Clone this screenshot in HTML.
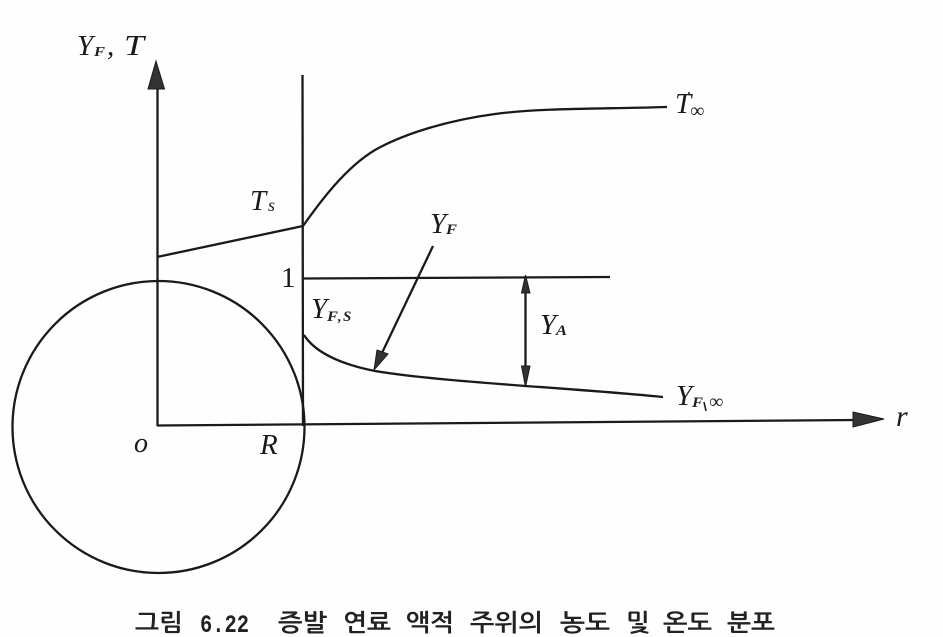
<!DOCTYPE html>
<html lang="ko">
<head>
<meta charset="utf-8">
<style>
html,body{margin:0;padding:0;background:#fefefe;width:943px;height:637px;overflow:hidden}
svg{display:block}
.i{font-family:"Liberation Serif",serif;font-style:italic;fill:#1a1a1a}
.b{font-family:"Liberation Serif",serif;font-style:italic;font-weight:bold;fill:#222}
.c{font-family:"NanumGothic","Noto Sans CJK KR",sans-serif;fill:#222;font-weight:bold}
.m{font-family:"Liberation Mono",monospace;fill:#222;font-weight:bold}
path,line,circle{fill:none;stroke:#1a1a1a;stroke-width:2.3}
path.h{fill:#333;stroke:#1a1a1a;stroke-width:1}
</style>
</head>
<body>
<svg width="943" height="637" viewBox="0 0 943 637" xmlns="http://www.w3.org/2000/svg">
<circle cx="158.5" cy="427" r="146"/>
<line x1="157.5" y1="426" x2="157.5" y2="88"/>
<path class="h" d="M156 61 L148 89 L164.5 89 Z"/>
<line x1="302.5" y1="75" x2="303" y2="426"/>
<line x1="157" y1="425.5" x2="856" y2="420"/>
<path class="h" d="M884 419 L853 412 L853 427 Z"/>
<line x1="157" y1="257" x2="303" y2="226"/>
<path d="M303 226 C320 202 345 168 375 150 C405 133 450 120 495 114 C540 108 600 109 667 107"/>
<line x1="303" y1="278.5" x2="610" y2="277"/>
<path d="M304 335 C316 354 345 365 375 371 C440 382 560 387 663 397"/>
<line x1="525.5" y1="285" x2="525.5" y2="380"/>
<path class="h" d="M525.5 275 L521.5 293 L530 293 Z"/>
<path class="h" d="M525.5 387 L521.5 366 L530 366 Z"/>
<line x1="433" y1="246" x2="381" y2="355"/>
<path class="h" d="M374 370 L377 350 L388 354 Z"/>

<text class="i" x="77" y="55" font-size="29">Y</text>
<text class="b" x="94" y="56" font-size="14" textLength="11" lengthAdjust="spacingAndGlyphs">F</text>
<text class="i" x="107" y="55" font-size="29">,</text>
<text class="i" x="124" y="55" font-size="29" textLength="20" lengthAdjust="spacingAndGlyphs">T</text>

<text class="i" x="250" y="210" font-size="29">T</text>
<text class="i" x="268" y="211" font-size="18">s</text>

<text class="i" x="430" y="233" font-size="29">Y</text>
<text class="b" x="446" y="234" font-size="15" textLength="11" lengthAdjust="spacingAndGlyphs">F</text>

<text x="281" y="287" font-size="29" font-family="Liberation Serif,serif" fill="#1a1a1a">1</text>

<text class="i" x="311" y="318" font-size="29">Y</text>
<text class="b" x="327" y="321" font-size="15" textLength="11" lengthAdjust="spacingAndGlyphs">F</text>
<text class="b" x="338" y="321" font-size="14">,</text>
<text class="b" x="343" y="321" font-size="15">S</text>

<text class="i" x="540" y="334" font-size="29">Y</text>
<text class="b" x="556" y="335" font-size="15" textLength="11" lengthAdjust="spacingAndGlyphs">A</text>

<text class="i" x="675" y="113" font-size="29">T</text>
<circle cx="689" cy="93" r="1" style="fill:#1a1a1a;stroke:none"/>
<text class="b" x="690" y="117" font-size="20">∞</text>

<text class="i" x="676" y="405" font-size="29">Y</text>
<text class="b" x="692" y="407" font-size="15" textLength="11" lengthAdjust="spacingAndGlyphs">F</text>
<line x1="704" y1="402" x2="706" y2="411" style="stroke-width:1.6"/>
<text class="b" x="709" y="408" font-size="20">∞</text>

<text class="i" x="896" y="426" font-size="30">r</text>
<text class="i" x="134" y="452" font-size="28">o</text>
<text class="i" x="260" y="454" font-size="29">R</text>

<text class="c" x="135" y="631" font-size="24" textLength="48" lengthAdjust="spacingAndGlyphs">그림</text>
<text class="m" x="200" y="632" font-size="25" textLength="49" lengthAdjust="spacingAndGlyphs">6.22</text>
<text class="c" x="278" y="631" font-size="24" textLength="49" lengthAdjust="spacingAndGlyphs">증발</text>
<text class="c" x="343" y="631" font-size="24" textLength="48" lengthAdjust="spacingAndGlyphs">연료</text>
<text class="c" x="406" y="631" font-size="24" textLength="48" lengthAdjust="spacingAndGlyphs">액적</text>
<text class="c" x="470" y="631" font-size="24" textLength="73" lengthAdjust="spacingAndGlyphs">주위의</text>
<text class="c" x="560" y="631" font-size="24" textLength="50" lengthAdjust="spacingAndGlyphs">농도</text>
<text class="c" x="626" y="631" font-size="24" textLength="24" lengthAdjust="spacingAndGlyphs">및</text>
<text class="c" x="663" y="631" font-size="24" textLength="49" lengthAdjust="spacingAndGlyphs">온도</text>
<text class="c" x="727" y="631" font-size="24" textLength="48" lengthAdjust="spacingAndGlyphs">분포</text>
</svg>
</body>
</html>
